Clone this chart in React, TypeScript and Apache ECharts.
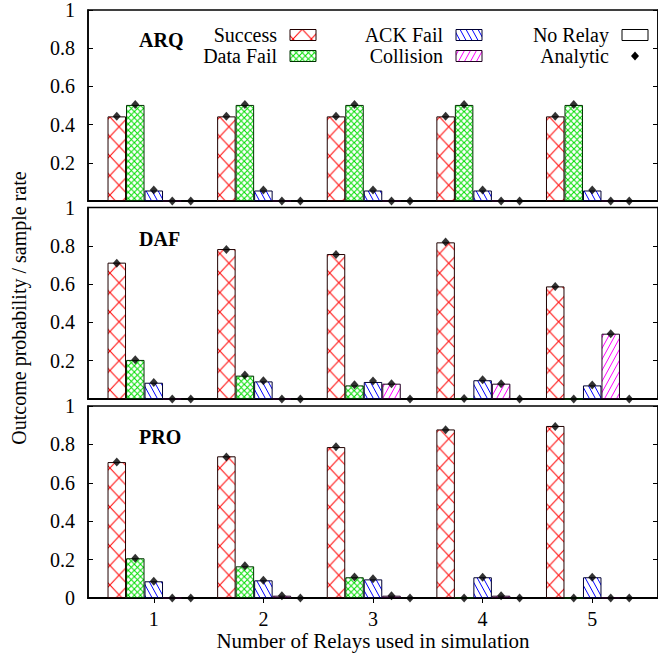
import React, { useEffect, useRef } from 'react';
import * as echarts from 'echarts';

const relays = [1, 2, 3, 4, 5];
const outcomes = ['Success', 'Data Fail', 'ACK Fail', 'Collision', 'No Relay'];
const panelNames = ['ARQ', 'DAF', 'PRO'];

// ARQ simulation
const arqSuccess = [0.443, 0.443, 0.443, 0.443, 0.443];
const arqDataFail = [0.503, 0.503, 0.503, 0.503, 0.503];
const arqAckFail = [0.055, 0.055, 0.055, 0.055, 0.055];
const arqCollision = [0, 0, 0, 0, 0];
const arqNoRelay = [0, 0, 0, 0, 0];
// ARQ analytic
const arqSuccessA = [0.444, 0.444, 0.444, 0.444, 0.444];
const arqDataFailA = [0.505, 0.505, 0.505, 0.505, 0.505];
const arqAckFailA = [0.058, 0.058, 0.058, 0.058, 0.058];
const arqCollisionA = [0, 0, 0, 0, 0];
const arqNoRelayA = [0, 0, 0, 0, 0];

// DAF simulation
const dafSuccess = [0.712, 0.783, 0.757, 0.818, 0.588];
const dafDataFail = [0.204, 0.122, 0.071, 0.003, 0];
const dafAckFail = [0.085, 0.092, 0.089, 0.098, 0.071];
const dafCollision = [0, 0, 0.08, 0.08, 0.341];
const dafNoRelay = [0, 0, 0, 0, 0];
// DAF analytic
const dafSuccessA = [0.709, 0.781, 0.755, 0.82, 0.588];
const dafDataFailA = [0.205, 0.125, 0.075, 0.003, 0];
const dafAckFailA = [0.086, 0.095, 0.094, 0.1, 0.073];
const dafCollisionA = [0, 0, 0.08, 0.08, 0.341];
const dafNoRelayA = [0, 0, 0, 0, 0];

// PRO simulation
const proSuccess = [0.708, 0.738, 0.786, 0.878, 0.896];
const proDataFail = [0.207, 0.165, 0.108, 0.002, 0];
const proAckFail = [0.087, 0.092, 0.097, 0.108, 0.108];
const proCollision = [0, 0.012, 0.012, 0.012, 0.002];
const proNoRelay = [0.005, 0, 0, 0, 0];
// PRO analytic
const proSuccessA = [0.708, 0.735, 0.788, 0.876, 0.893];
const proDataFailA = [0.207, 0.168, 0.11, 0, 0];
const proAckFailA = [0.087, 0.092, 0.1, 0.108, 0.108];
const proCollisionA = [0, 0.012, 0.012, 0.012, 0];
const proNoRelayA = [0, 0, 0, 0, 0];

const simulated = [
  [arqSuccess, arqDataFail, arqAckFail, arqCollision, arqNoRelay],
  [dafSuccess, dafDataFail, dafAckFail, dafCollision, dafNoRelay],
  [proSuccess, proDataFail, proAckFail, proCollision, proNoRelay],
];
const analytic = [
  [arqSuccessA, arqDataFailA, arqAckFailA, arqCollisionA, arqNoRelayA],
  [dafSuccessA, dafDataFailA, dafAckFailA, dafCollisionA, dafNoRelayA],
  [proSuccessA, proDataFailA, proAckFailA, proCollisionA, proNoRelayA],
];

const FONT = '"Liberation Serif", "DejaVu Serif", serif';
const FS = 20;

function tile(w: number, h: number, body: string, ox: number) {
  const svg = `<svg xmlns="http://www.w3.org/2000/svg" width="${w}" height="${h}" viewBox="0 0 ${w} ${h}"><rect width="${w}" height="${h}" fill="#ffffff"/>${body}</svg>`;
  return {
    image: 'data:image/svg+xml;charset=utf-8,' + encodeURIComponent(svg),
    repeat: 'repeat',
    imageWidth: w,
    imageHeight: h,
    x: ox,
    y: 0,
  };
}

function cross(w: number, h: number, c: string, ox: number) {
  return tile(
    w,
    h,
    `<g stroke="${c}" stroke-width="1" fill="none"><line x1="0" y1="0" x2="${w}" y2="${h}"/><line x1="${w}" y1="0" x2="0" y2="${h}"/></g>`,
    ox
  );
}
function back(w: number, h: number, c: string) {
  return tile(
    w,
    h,
    `<g stroke="${c}" stroke-width="1" fill="none"><line x1="0" y1="0" x2="${w}" y2="${h}"/><line x1="${-w}" y1="0" x2="0" y2="${h}"/><line x1="${w}" y1="0" x2="${2 * w}" y2="${h}"/></g>`,
    0
  );
}
function fwd(w: number, h: number, c: string) {
  return tile(
    w,
    h,
    `<g stroke="${c}" stroke-width="1" fill="none"><line x1="0" y1="${h}" x2="${w}" y2="0"/><line x1="${-w}" y1="${h}" x2="0" y2="0"/><line x1="${w}" y1="${h}" x2="${2 * w}" y2="0"/></g>`,
    0
  );
}

const fills: any[] = [
  cross(18.317, 19.5, '#ff0000', 16.1),
  cross(6.106, 6.2, '#00dd00', 4.07),
  back(6, 11, '#0000ff'),
  fwd(6, 11, '#ff00ff'),
  '#ffffff',
];
const borders = ['#200000', '#003300', '#000033', '#220022', '#000000'];

const GRID_LEFT = 88;
const GRID_WIDTH = 571.5;
const grids = [
  { top: 9, height: 192 },
  { top: 207.5, height: 191.5 },
  { top: 406, height: 192 },
];
const BAR_W = 18.5;

export default function App() {
  const ref = useRef<HTMLDivElement>(null);
  useEffect(() => {
    if (!ref.current) return;
    const chart = echarts.init(ref.current, null, { renderer: 'svg' });

    const xAxes: any[] = [];
    const yAxes: any[] = [];
    grids.forEach((g, i) => {
      xAxes.push({
        gridIndex: i,
        type: 'value',
        min: 0.4,
        max: 5.6,
        position: 'bottom',
        axisLine: { show: true, onZero: false, lineStyle: { color: '#000', width: 2 } },
        axisTick: { show: i === 2, inside: true, length: 5, customValues: relays, lineStyle: { color: '#000' } },
        axisLabel: {
          show: i === 2,
          customValues: relays,
          fontFamily: FONT,
          fontSize: FS,
          color: '#000',
          margin: 11,
        },
        splitLine: { show: false },
      });
    });
    xAxes.push({
      gridIndex: 2,
      type: 'value',
      min: 0.4,
      max: 5.6,
      position: 'top',
      axisLine: { show: false },
      axisTick: { show: true, inside: true, length: 5, customValues: relays, lineStyle: { color: '#000' } },
      axisLabel: { show: false },
      splitLine: { show: false },
    });
    grids.forEach((g, i) => {
      yAxes.push({
        gridIndex: i,
        type: 'value',
        min: 0,
        max: 1,
        interval: 0.2,
        position: 'left',
        axisLine: { show: true, lineStyle: { color: '#000', width: 1.5 } },
        axisTick: { show: true, inside: true, length: 5, lineStyle: { color: '#000' } },
        axisLabel: {
          fontFamily: FONT,
          fontSize: FS,
          color: '#000',
          margin: 13,
          formatter: (v: number) => (i < 2 && v === 0 ? '' : String(+v.toFixed(1))),
        },
        splitLine: { show: false },
      });
      yAxes.push({
        gridIndex: i,
        type: 'value',
        min: 0,
        max: 1,
        interval: 0.2,
        position: 'right',
        axisLine: { show: true, lineStyle: { color: '#000', width: 1.5 } },
        axisTick: { show: true, inside: true, length: 5, lineStyle: { color: '#000' } },
        axisLabel: { show: false },
        splitLine: { show: false },
      });
    });

    const series: any[] = [];
    panelNames.forEach((_, p) => {
      outcomes.forEach((name, k) => {
        series.push({
          type: 'bar',
          name,
          xAxisIndex: p,
          yAxisIndex: p * 2,
          barWidth: BAR_W,
          barGap: '0%',
          data: relays.map((r, j) => [r, simulated[p][k][j]]),
          itemStyle: { color: fills[k], borderColor: borders[k], borderWidth: 1 },
          emphasis: { disabled: true },
        });
      });
    });
    panelNames.forEach((_, p) => {
      outcomes.forEach((name, k) => {
        series.push({
          type: 'scatter',
          name: 'Analytic',
          xAxisIndex: p,
          yAxisIndex: p * 2,
          symbol: 'diamond',
          symbolSize: [8, 9],
          symbolOffset: [(k - 2) * BAR_W, 0],
          clip: false,
          z: 5,
          data: relays.map((r, j) => [r, analytic[p][k][j]]),
          itemStyle: { color: '#000' },
        });
      });
    });

    const graphic: any[] = [];
    panelNames.forEach((n, p) => {
      graphic.push({
        type: 'text',
        x: 139,
        y: grids[p].top + 31,
        style: { text: n, font: `bold 20px ${FONT}`, fill: '#000', textVerticalAlign: 'middle' },
      });
    });
    const legendItems = [
      { label: 'Success', x: 277, y: 35, k: 0 },
      { label: 'Data Fail', x: 277, y: 56, k: 1 },
      { label: 'ACK Fail', x: 443, y: 35, k: 2 },
      { label: 'Collision', x: 443, y: 56, k: 3 },
      { label: 'No Relay', x: 609, y: 35, k: 4 },
    ];
    legendItems.forEach((it) => {
      graphic.push({
        type: 'text',
        x: it.x,
        y: it.y,
        style: { text: it.label, font: `${FS}px ${FONT}`, fill: '#000', textAlign: 'right', textVerticalAlign: 'middle' },
      });
      graphic.push({
        type: 'rect',
        shape: { x: it.x + 13, y: it.y - 5.5, width: 26, height: 11 },
        style: { fill: fills[it.k], stroke: borders[it.k], lineWidth: 1 },
      });
    });
    graphic.push({
      type: 'text',
      x: 609,
      y: 56,
      style: { text: 'Analytic', font: `${FS}px ${FONT}`, fill: '#000', textAlign: 'right', textVerticalAlign: 'middle' },
    });
    graphic.push({
      type: 'polygon',
      shape: { points: [[635, 51.5], [639, 56], [635, 60.5], [631, 56]] },
      style: { fill: '#000' },
    });
    graphic.push({
      type: 'text',
      x: 19,
      y: 308,
      rotation: Math.PI / 2,
      style: {
        text: 'Outcome probability / sample rate',
        font: `${FS}px ${FONT}`,
        fill: '#000',
        textAlign: 'center',
        textVerticalAlign: 'middle',
      },
    });
    graphic.push({
      type: 'text',
      x: 373,
      y: 641,
      style: {
        text: 'Number of Relays used in simulation',
        font: `21px ${FONT}`,
        fill: '#000',
        textAlign: 'center',
        textVerticalAlign: 'middle',
      },
    });

    chart.setOption({
      animation: false,
      backgroundColor: '#ffffff',
      grid: grids.map((g) => ({
        left: GRID_LEFT,
        width: GRID_WIDTH,
        top: g.top,
        height: g.height,
        show: true,
        borderColor: '#000',
        borderWidth: 1.5,
        backgroundColor: 'transparent',
      })),
      xAxis: xAxes,
      yAxis: yAxes,
      series,
      graphic,
    });
    return () => chart.dispose();
  }, []);
  return (
    <div
      ref={ref}
      style={{ position: 'fixed', left: 0, top: 0, width: 658, height: 659, background: '#fff' }}
    />
  );
}
